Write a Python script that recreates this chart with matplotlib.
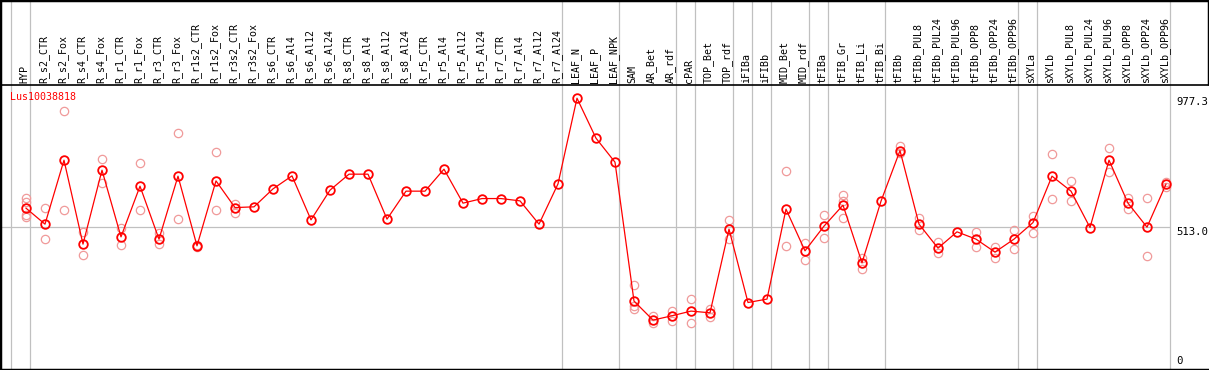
import matplotlib
matplotlib.use("Agg")
import matplotlib.pyplot as plt
import numpy as np

gene = "Lus10038818"
samples = ["HYP", "R_s2_CTR", "R_s2_Fox", "R_s4_CTR", "R_s4_Fox", "R_r1_CTR", "R_r1_Fox",
           "R_r3_CTR", "R_r3_Fox", "R_r1s2_CTR", "R_r1s2_Fox", "R_r3s2_CTR", "R_r3s2_Fox",
           "R_s6_CTR", "R_s6_Al4", "R_s6_Al12", "R_s6_Al24", "R_s8_CTR", "R_s8_Al4",
           "R_s8_Al12", "R_s8_Al24", "R_r5_CTR", "R_r5_Al4", "R_r5_Al12", "R_r5_Al24",
           "R_r7_CTR", "R_r7_Al4", "R_r7_Al12", "R_r7_Al24", "LEAF_N", "LEAF_P", "LEAF_NPK",
           "SAM", "AR_Bet", "AR_rdf", "cPAR", "TOP_Bet", "TOP_rdf", "iFIBa", "iFIBb",
           "MID_Bet", "MID_rdf", "tFIBa", "tFIB_Gr", "tFIB_Li", "tFIB_Bi", "tFIBb",
           "tFIBb_PUL8", "tFIBb_PUL24", "tFIBb_PUL96", "tFIBb_OPP8", "tFIBb_OPP24", "tFIBb_OPP96",
           "sXYLa", "sXYLb", "sXYLb_PUL8", "sXYLb_PUL24", "sXYLb_PUL96", "sXYLb_OPP8",
           "sXYLb_OPP24", "sXYLb_OPP96"]

# mean expression per sample
means = [582.0, 524.5, 754.5, 452.6, 718.5, 478.8, 661.0, 470.6, 697.0, 446.5,
         680.1, 584.1, 586.7, 651.3, 698.1, 539.9, 646.7, 704.2, 704.2, 542.5,
         643.1, 643.1, 722.1, 600.0, 616.5, 616.5, 608.2, 524.5, 669.3, 977.3,
         833.5, 747.3, 247.8, 179.5, 195.0, 211.8, 205.7, 506.5, 242.7, 255.0,
         578.4, 428.5, 517.3, 592.8, 385.4, 607.1, 789.0, 524.5, 438.2, 496.8,
         470.6, 423.9, 470.6, 530.2, 697.0, 643.1, 512.3, 754.5, 600.0, 513.7,
         668.2]

# replicate values (empty where they sit under the mean)
reps = [[619.0, 604.6, 557.9, 550.7], [582.0, 470.6], [930.6, 574.8], [497.9, 413.1],
        [758.1, 674.0], [510.1, 449.0], [744.8, 574.8], [492.1, 454.8], [851.5, 542.5],
        [450.1, 442.9], [783.2, 574.8], [598.5, 566.2], [],
        [], [], [], [], [], [], [], [], [], [], [], [], [], [], [], [], [], [], [],
        [305.3, 228.4, 220.1], [193.9, 169.8], [210.4, 177.0], [255.0, 168.7],
        [219.0, 188.8], [539.9, 470.6], [], [], [714.9, 445.4], [457.3, 395.1],
        [556.8, 474.2], [628.7, 608.2, 546.0], [404.5, 362.8], [], [805.9, 779.6],
        [546.0, 502.9], [462.0, 420.3], [], [496.8, 441.8], [442.9, 404.5],
        [504.0, 435.7], [554.3, 492.1], [776.0, 614.3], [679.0, 607.1], [],
        [797.6, 713.5], [620.1, 579.5], [617.9, 409.5], [677.6, 659.6]]

# first sample index of each group (gray separators)
group_starts = [0, 1, 29, 32, 35, 36, 38, 39, 40, 42, 43, 46, 53, 54, 61]

fig = plt.figure(figsize=(12.09, 3.70), dpi=100)
ax = fig.add_axes([0, 0, 1, 1])
x0, x1 = -1.368, 62.263
ax.set_xlim(x0, x1)
ax.set_ylim(0, 1330.5)

x = np.arange(len(samples))
mono = "DejaVu Sans Mono"

for g in group_starts:
    ax.axvline(g - 0.79, color="#c0c0c0", lw=0.9, zorder=1)
ax.hlines(513.0, x0, 61 - 0.79, color="#c0c0c0", lw=0.9, zorder=1)
ax.axhline(1025, color="black", lw=1.2, zorder=2)
# right border only around the label strip
ax.vlines(x1, 1025, 1330.5, color="black", lw=2.5, zorder=2, clip_on=False)

for i, r in enumerate(reps):
    if r:
        ax.plot([i] * len(r), r, "o", mfc="none", mec="#f09a9a", ms=6, mew=0.9, zorder=3)

ax.plot(x, means, "-", color="red", lw=0.9, zorder=4)
ax.plot(x, means, "o", mfc="none", mec="red", ms=6.2, mew=1.3, zorder=5)

for i, s in enumerate(samples):
    ax.text(i - 0.08, 1032, s, rotation=90, ha="center", va="bottom",
            fontsize=7.2, family=mono, color="black")

ax.text(-0.84, 982, gene, color="red", fontsize=7.2, family=mono, va="center", ha="left")
ax.text(60.52, 962, "977.3", fontsize=7.7, family=mono, va="center", ha="left")
ax.text(60.52, 498, "513.0", fontsize=7.7, family=mono, va="center", ha="left")
ax.text(60.52, 31, "0", fontsize=7.7, family=mono, va="center", ha="left")

ax.set_xticks([])
ax.set_yticks([])
for sp in ax.spines.values():
    sp.set_color("black")
    sp.set_linewidth(2.5)
ax.spines["right"].set_visible(False)

fig.savefig("out.png", dpi=100)
